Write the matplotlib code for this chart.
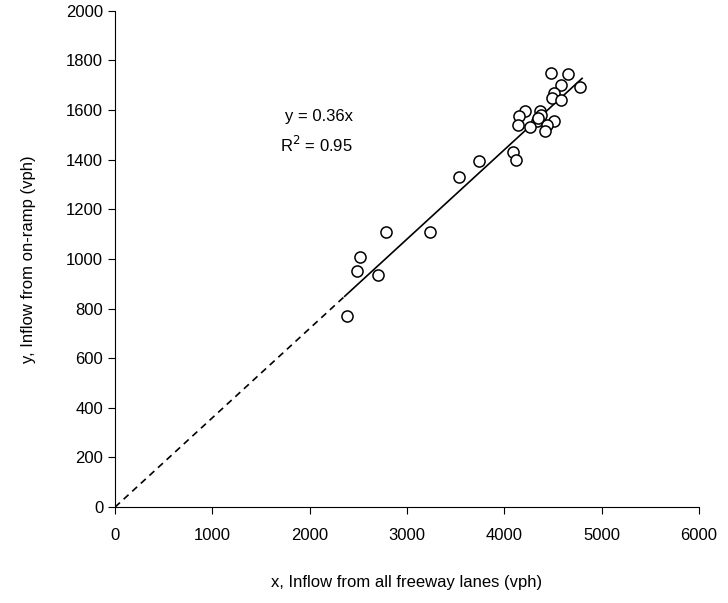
import numpy as np
import matplotlib
matplotlib.use("Agg")
import matplotlib.pyplot as plt

plt.rcParams['font.family'] = ['Liberation Sans', 'DejaVu Sans']

# observed flows (vph)
freeway = [2380, 2490, 2520, 2700, 2780, 3240, 3540, 3740, 4090, 4125,
           4480, 4660, 4580, 4780, 4510, 4490, 4580, 4215, 4365, 4375,
           4155, 4340, 4515, 4145, 4265, 4435, 4415, 4350]
onramp = [770, 950, 1010, 935, 1110, 1110, 1330, 1395, 1430, 1400,
          1750, 1745, 1700, 1695, 1670, 1650, 1640, 1595, 1595, 1580,
          1575, 1555, 1555, 1540, 1530, 1540, 1515, 1570]

slope = 0.36
solid_x = [2360, 4800]
dash_x = [0, 2360]

fig = plt.figure(figsize=(7.28, 6.03), dpi=100)
ax = fig.add_axes([0.158, 0.159, 0.802, 0.823])

ax.plot(dash_x, [slope * v for v in dash_x], color='black', lw=1.2, ls=(0, (4, 3)))
ax.plot(solid_x, [slope * v for v in solid_x], color='black', lw=1.2)
ax.scatter(freeway, onramp, s=64, facecolors='white', edgecolors='black',
           linewidths=1.1, zorder=3)

ax.text(1750, 1573, 'y = 0.36x', fontsize=12, ha='left', va='center')
ax.text(1700, 1460, 'R$^2$ = 0.95', fontsize=12, ha='left', va='center')

ax.set_xlim(0, 6000)
ax.set_ylim(0, 2000)
ax.set_xticks(range(0, 6001, 1000))
ax.set_yticks(range(0, 2001, 200))
ax.tick_params(direction='out', labelsize=12, length=5)
ax.tick_params(axis='x', pad=10)
for s in ['top', 'right']:
    ax.spines[s].set_visible(False)

ax.set_xlabel('x, Inflow from all freeway lanes (vph)', fontsize=12, labelpad=23)
ax.set_ylabel('y, Inflow from on-ramp (vph)', fontsize=12, labelpad=22)

fig.savefig('out.png', dpi=100)
